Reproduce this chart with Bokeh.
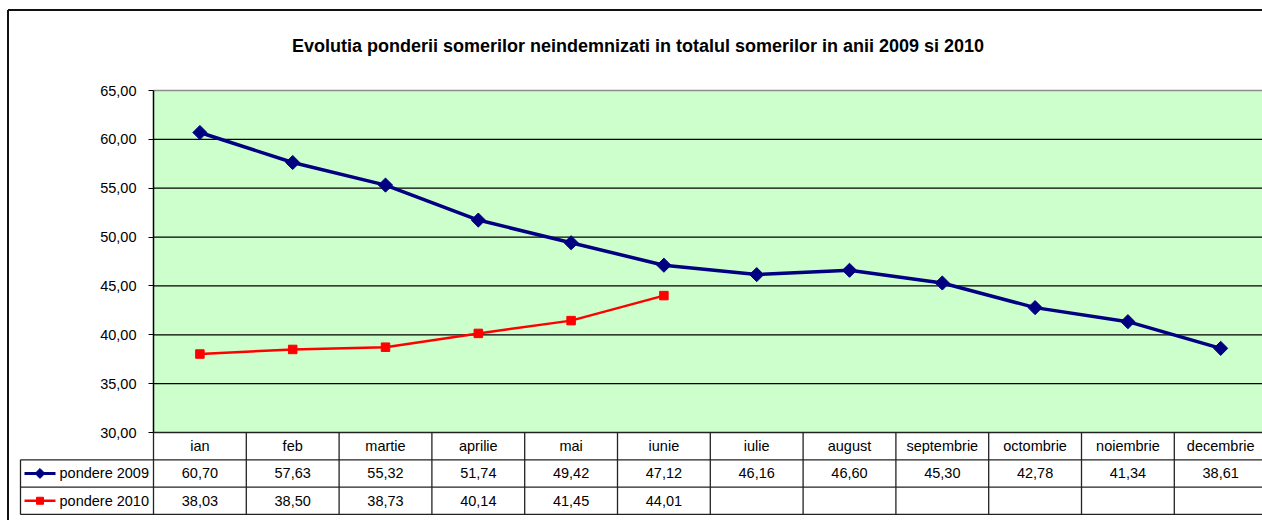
import math
from bokeh.plotting import figure
from bokeh.models import Range1d, LinearAxis, FixedTicker, ColumnDataSource, Label
from bokeh.core.properties import value
from bokeh.embed import file_html
from bokeh.resources import INLINE

# ---------------- data ----------------
title_text = "Evolutia ponderii somerilor neindemnizati in totalul somerilor in anii 2009 si  2010"
months = ["ian", "feb", "martie", "aprilie", "mai", "iunie", "iulie", "august",
          "septembrie", "octombrie", "noiembrie", "decembrie"]
pondere_2009 = [60.70, 57.63, 55.32, 51.74, 49.42, 47.12, 46.16, 46.60, 45.30, 42.78, 41.34, 38.61]
pondere_2010 = [38.03, 38.50, 38.73, 40.14, 41.45, 44.01]
series_names = ["pondere 2009", "pondere 2010"]
y_ticks = [30, 35, 40, 45, 50, 55, 60, 65]
y_tick_labels = ["30,00", "35,00", "40,00", "45,00", "50,00", "55,00", "60,00", "65,00"]

# ---------------- layout (pixels) ----------------
W, H = 1262, 520
PLOT_LEFT, PLOT_TOP, PLOT_BOTTOM = 153, 90, 432
COL = 92.8
Y0, Y1 = y_ticks[0], y_ticks[-1]
PPU = (PLOT_BOTTOM - PLOT_TOP) / (Y1 - Y0)
ROW = 27.3
TABLE_LEFT = 20
FONT = "Liberation Sans"
FS = "14.5px"
NAVY = "#000080"
RED = "#FF0000"


def dx(px):
    return (px - PLOT_LEFT) / COL


def dy(py):
    return Y1 - (py - PLOT_TOP) / PPU


n = len(months)
p = figure(width=W, height=H,
           x_range=Range1d(dx(0), dx(W)),
           y_range=Range1d(dy(H), dy(0)),
           x_axis_location=None, y_axis_location=None,
           toolbar_location=None, output_backend="svg",
           min_border=0, outline_line_color=None,
           background_fill_color="white", border_fill_color="white")
p.xgrid.visible = False
p.ygrid.visible = False

# outer chart border (left + top; right/bottom are outside the picture)
p.segment(x0=[dx(7.5), dx(7.5)], y0=[dy(9.5), dy(9.5)],
          x1=[dx(7.5), dx(W)], y1=[dy(H), dy(9.5)],
          line_color="#111111", line_width=2)

# plot area
p.quad(left=0, right=n, bottom=Y0, top=Y1, fill_color="#CCFFCC", line_color=None)
grid_y = y_ticks[1:-1]
p.segment(x0=[0] * len(grid_y), x1=[n] * len(grid_y), y0=grid_y, y1=grid_y,
          line_color="black", line_width=1.2)
p.segment(x0=[0], x1=[n], y0=[Y1], y1=[Y1], line_color="#8c8c8c", line_width=1.5)

# table geometry
r0 = Y0
r1 = dy(PLOT_BOTTOM + ROW)
r2 = dy(PLOT_BOTTOM + 2 * ROW)
r3 = dy(PLOT_BOTTOM + 3 * ROW)
tl = dx(TABLE_LEFT)

# table lines
vx = list(range(0, n + 1))
p.segment(x0=vx, x1=vx, y0=[r3] * len(vx), y1=[r0] * len(vx), line_color="#222222", line_width=1.3)
p.segment(x0=[0, tl, tl, tl, tl], x1=[n, n, n, n, tl],
          y0=[r0, r1, r2, r3, r1], y1=[r0, r1, r2, r3, r3],
          line_color="#222222", line_width=1.3)

xc = [i + 0.5 for i in range(n)]

# header row (months)
p.text(x=xc, y=[(r0 + r1) / 2] * n, text=months, text_align="center", text_baseline="middle",
       text_font=value(FONT), text_font_size=FS, text_color="black")


def fmt(v):
    return f"{v:.2f}".replace(".", ",")


p.text(x=xc, y=[(r1 + r2) / 2] * n, text=[fmt(v) for v in pondere_2009],
       text_align="center", text_baseline="middle",
       text_font=value(FONT), text_font_size=FS, text_color="black")
m10 = len(pondere_2010)
p.text(x=xc[:m10], y=[(r2 + r3) / 2] * m10, text=[fmt(v) for v in pondere_2010],
       text_align="center", text_baseline="middle",
       text_font=value(FONT), text_font_size=FS, text_color="black")

# legend keys inside the table
k0, k1, km = dx(24), dx(55), dx(39.5)
p.line(x=[k0, k1], y=[(r1 + r2) / 2] * 2, line_color=NAVY, line_width=3)
p.scatter(x=[km], y=[(r1 + r2) / 2], marker="square", angle=math.pi / 4, size=7,
          fill_color=NAVY, line_color=NAVY)
p.line(x=[k0, k1], y=[(r2 + r3) / 2] * 2, line_color=RED, line_width=2.5)
p.scatter(x=[km], y=[(r2 + r3) / 2], marker="square", size=7, fill_color=RED, line_color=RED)
p.text(x=[dx(59)] * 2, y=[(r1 + r2) / 2, (r2 + r3) / 2], text=series_names,
       text_align="left", text_baseline="middle",
       text_font=value(FONT), text_font_size=FS, text_color="black")

# series
s09 = ColumnDataSource(dict(x=xc, y=pondere_2009))
s10 = ColumnDataSource(dict(x=xc[:m10], y=pondere_2010))
p.line("x", "y", source=s09, line_color=NAVY, line_width=3.5)
p.scatter("x", "y", source=s09, marker="square", angle=math.pi / 4, size=10,
          fill_color=NAVY, line_color=NAVY)
p.line("x", "y", source=s10, line_color=RED, line_width=2.5)
p.scatter("x", "y", source=s10, marker="square", size=8.5, fill_color=RED, line_color=RED)

# y axis at the plot-area left edge
ax = LinearAxis(fixed_location=0, bounds=(Y0, Y1), ticker=FixedTicker(ticks=y_ticks),
                major_label_overrides={t: l for t, l in zip(y_ticks, y_tick_labels)},
                major_tick_out=5, major_tick_in=0, minor_tick_out=0, minor_tick_in=0,
                axis_line_color="black", axis_line_width=1.5,
                major_tick_line_color="black",
                major_label_text_font=FONT, major_label_text_font_size=FS,
                major_label_text_color="black", major_label_standoff=12)
p.add_layout(ax, "left")

# title
p.add_layout(Label(x=dx(640), y=dy(45), text=title_text, text_align="center",
                   text_baseline="alphabetic", text_font=FONT, text_font_size="18px",
                   text_font_style="bold", text_color="black"))

open("out.html", "w").write(file_html(p, INLINE))
